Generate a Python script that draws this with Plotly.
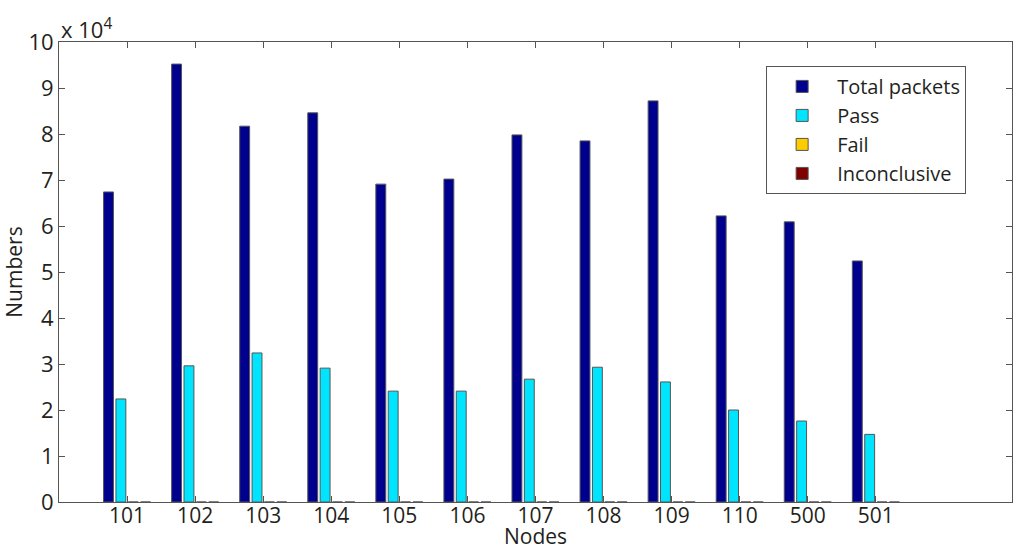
import plotly.graph_objects as go

nodes = ["101", "102", "103", "104", "105", "106", "107", "108", "109", "110", "500", "501"]
total_packets = [67400, 95200, 81700, 84600, 69100, 70200, 79800, 78500, 87200, 62200, 60900, 52400]
pass_vals = [22400, 29600, 32400, 29100, 24100, 24100, 26700, 29300, 26100, 20000, 17600, 14700]
fail_vals = [0] * 12
inconclusive_vals = [0] * 12
y_ticks = [0, 1, 2, 3, 4, 5, 6, 7, 8, 9, 10]

xpos = list(range(1, len(nodes) + 1))
font_fam = "Open Sans, Lato, sans-serif"
txt = "#231f20"

fig = go.Figure()
series = [
    ("Total packets", total_packets, "#00008f"),
    ("Pass", pass_vals, "#00e5ff"),
    ("Fail", fail_vals, "#ffcc00"),
    ("Inconclusive", inconclusive_vals, "#800000"),
]
for name, vals, col in series:
    fig.add_trace(go.Bar(
        x=xpos, y=vals, name=name,
        marker=dict(color=col, line=dict(color="#555555", width=1)),
    ))

fig.update_layout(
    width=1024, height=549,
    barmode="group", bargap=0.273, bargroupgap=0.2,
    plot_bgcolor="white", paper_bgcolor="white",
    margin=dict(l=59, r=12, t=42, b=47, autoexpand=False),
    font=dict(family=font_fam, size=20, color=txt),
    showlegend=True,
    legend=dict(
        x=0.742, y=0.948, xanchor="left", yanchor="top",
        bgcolor="white", bordercolor="#555555", borderwidth=1,
        font=dict(size=20, family=font_fam, color=txt),
        tracegroupgap=0, itemwidth=60,
    ),
    xaxis=dict(
        range=[0, 14], tickmode="array", tickvals=xpos, ticktext=nodes,
        ticks="inside", ticklen=6, tickcolor="#555555",
        showline=True, linecolor="#555555", linewidth=1, mirror="ticks",
        showgrid=False, zeroline=False, automargin=False,
        ticklabelstandoff=-5,
        tickfont=dict(size=21),
    ),
    yaxis=dict(
        range=[0, 100000], tickmode="array",
        tickvals=[v * 10000 for v in y_ticks], ticktext=[str(v) for v in y_ticks],
        ticks="inside", ticklen=6, tickcolor="#555555",
        showline=True, linecolor="#555555", linewidth=1, mirror="ticks",
        showgrid=False, zeroline=False, automargin=False,
        title=dict(text="Numbers", standoff=2, font=dict(size=21)),
        tickfont=dict(size=22),
    ),
)
fig.add_annotation(
    xref="paper", yref="paper", x=0.5, y=0, xanchor="center", yanchor="middle",
    text="Nodes", showarrow=False, font=dict(size=21, family=font_fam, color=txt),
    yshift=-34,
)
fig.add_annotation(
    xref="paper", yref="paper", x=0.0, y=1.0, xanchor="left", yanchor="bottom",
    text="x 10<sup>4</sup>", showarrow=False, font=dict(size=22, family=font_fam, color=txt),
    yshift=-4,
)
fig.write_html(
    "out.html",
    config={"displayModeBar": False},
    post_script="document.body.style.margin='0';document.body.style.overflow='hidden';",
)
